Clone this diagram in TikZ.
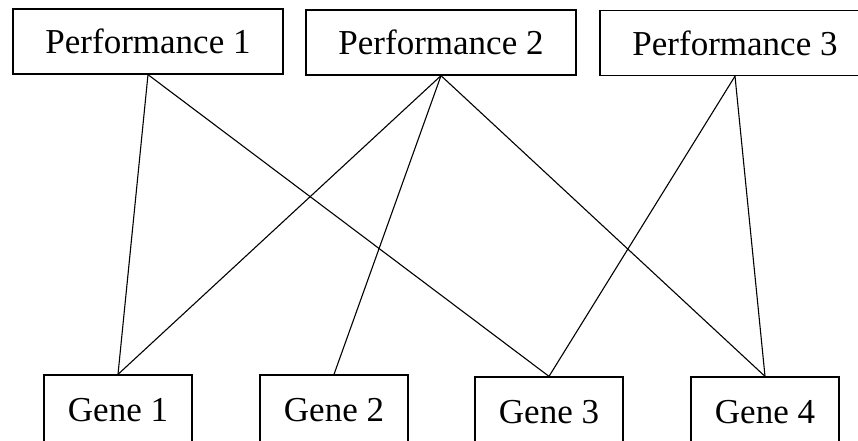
\documentclass[tikz,border=0pt]{standalone}
\usepackage{fontspec}
\setmainfont{Liberation Serif}
\begin{document}
\begin{tikzpicture}[x=1pt,y=-1pt,
  box/.style={draw, line width=1.3pt, rectangle, inner sep=0pt, font=\fontsize{35}{40}\selectfont},
  perf/.style={box, minimum width=270pt, minimum height=65pt},
  gene/.style={box, minimum width=148pt, minimum height=70pt},
  link/.style={line width=1.1pt}]
\useasboundingbox (0,0) rectangle (858,440);
\node[perf] (p1) at (148,41.5) {Performance 1};
\node[perf] (p2) at (441,42.5) {Performance 2};
\node[perf] (p3) at (735,43) {Performance 3};
\node[gene] (g1) at (118,410) {Gene 1};
\node[gene] (g2) at (334,410) {Gene 2};
\node[gene] (g3) at (549,412) {Gene 3};
\node[gene] (g4) at (765,412) {Gene 4};
\draw[link] (p1.south) -- (g1.north);
\draw[link] (p1.south) -- (g3.north);
\draw[link] (p2.south) -- (g1.north);
\draw[link] (p2.south) -- (g2.north);
\draw[link] (p2.south) -- (g4.north);
\draw[link] (p3.south) -- (g3.north);
\draw[link] (p3.south) -- (g4.north);
\end{tikzpicture}
\end{document}
